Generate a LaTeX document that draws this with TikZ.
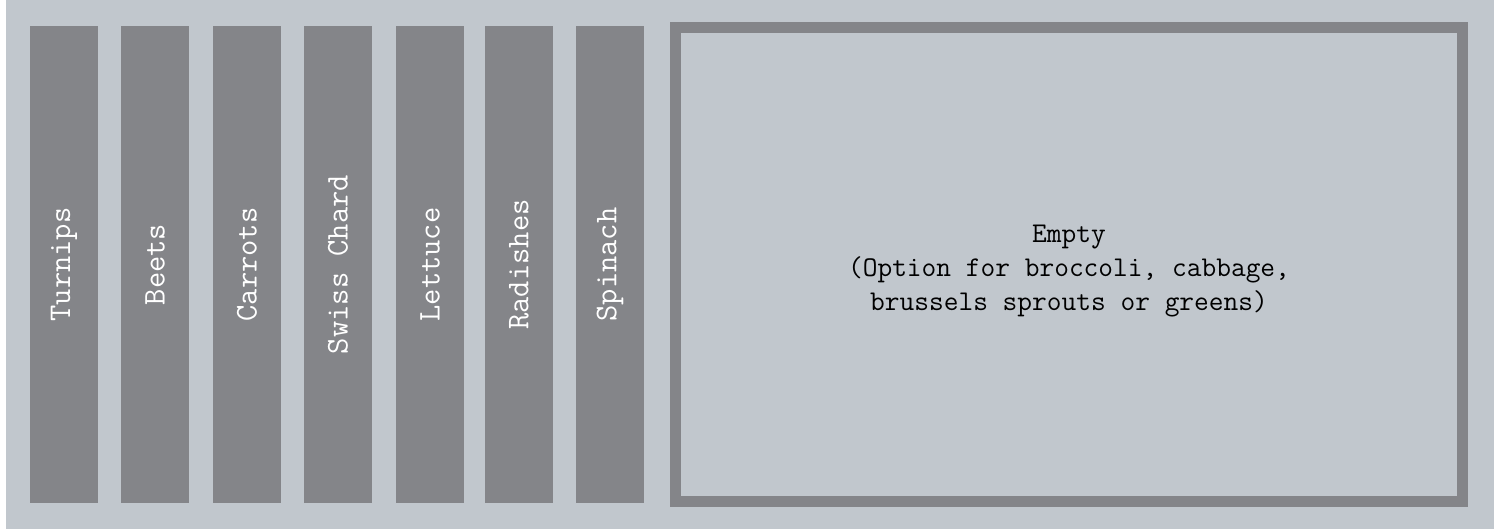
\documentclass[tikz,border=0pt]{standalone}
\usepackage{tikz}

\definecolor{bedbg}{RGB}{193,199,205}
\definecolor{rowgray}{RGB}{132,133,137}

\begin{document}
\begin{tikzpicture}[
    x=0.5pt, y=-0.5pt,
    row/.style={rectangle, fill=rowgray, rotate=90, inner sep=0pt,
        minimum width=238.5pt, minimum height=34pt, text=white,
        font=\ttfamily\fontsize{15.8}{18}\selectfont},
    plot/.style={rectangle, draw=rowgray, line width=5.5pt, fill=bedbg,
        minimum width=393.5pt, minimum height=237pt},
    plottext/.style={align=center, inner sep=0pt,
        font=\ttfamily\fontsize{14.3}{17}\selectfont}
]
\useasboundingbox (0,0) rectangle (1503,529);
\fill[bedbg] (6,0) rectangle (1494,529);

\node[row] (turnips) at (64,264.5) {Turnips};
\node[row] (beets) at (155,264.5) {Beets};
\node[row] (carrots) at (247,264.5) {Carrots};
\node[row] (chard) at (338,264.5) {Swiss Chard};
\node[row] (lettuce) at (430,264.5) {Lettuce};
\node[row] (radishes) at (519,264.5) {Radishes};
\node[row] (spinach) at (610,264.5) {Spinach};

\node[plot] (empty) at (1069,264.5) {};
\node[plottext] (emptytext) at (1069,271) {Empty\\(Option for broccoli, cabbage,\\brussels sprouts or greens)};
\end{tikzpicture}
\end{document}
